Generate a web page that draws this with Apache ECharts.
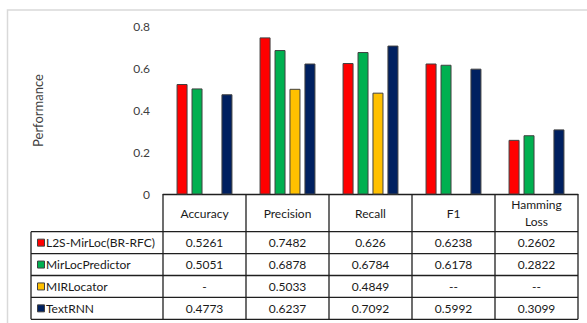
<!DOCTYPE html>
<html>
<head>
<meta charset="utf-8">
<script src="https://cdn.jsdelivr.net/npm/echarts@6/dist/echarts.min.js"></script>
<style>
  html, body { margin: 0; padding: 0; background: #ffffff; }
  #chart { width: 587px; height: 323px; }
</style>
</head>
<body>
<div id="chart"></div>
<script>
// Metric categories along the x axis (also the header of the data table)
const metrics = ['Accuracy', 'Precision', 'Recall', 'F1', 'Hamming\nLoss'];

// Model names (rows of the data table)
const modelNames = ['L2S-MirLoc(BR-RFC)', 'MirLocPredictor', 'MIRLocator', 'TextRNN'];

// Reported scores per model, as printed in the table ('-' / '--' = not reported)
const l2sMirLocScores = ['0.5261', '0.7482', '0.626', '0.6238', '0.2602'];
const mirLocPredictorScores = ['0.5051', '0.6878', '0.6784', '0.6178', '0.2822'];
const mirLocatorScores = ['-', '0.5033', '0.4849', '--', '--'];
const textRnnScores = ['0.4773', '0.6237', '0.7092', '0.5992', '0.3099'];

// Series colours
const modelColors = ['#FF0000', '#00B050', '#FFC000', '#002060'];

// Y axis ticks
const yTicks = [0, 0.2, 0.4, 0.6, 0.8];

const tableRows = [l2sMirLocScores, mirLocPredictorScores, mirLocatorScores, textRnnScores];
const toValue = s => (isNaN(parseFloat(s)) ? null : parseFloat(s));

const FONT = 'Lato';
const LINE = '#1f1f1f';
const TEXT = '#1a1a1a';

const chart = echarts.init(document.getElementById('chart'), null, { renderer: 'svg' });

const option = {
  animation: false,
  backgroundColor: '#ffffff',
  grid: { left: 163, right: 9, top: 26.5, bottom: 128.5, containLabel: false },
  xAxis: {
    type: 'category',
    data: metrics,
    axisLine: { show: true, lineStyle: { color: LINE, width: 1.3 } },
    axisTick: { show: false },
    axisLabel: {
      interval: 0,
      margin: 18.5,
      verticalAlign: 'middle',
      lineHeight: 16.5,
      fontFamily: FONT,
      fontSize: 12,
      color: TEXT
    }
  },
  yAxis: {
    type: 'value',
    min: yTicks[0],
    max: yTicks[yTicks.length - 1],
    interval: yTicks[1] - yTicks[0],
    name: 'Performance',
    nameLocation: 'middle',
    nameGap: 119,
    nameRotate: 90,
    nameTextStyle: { fontFamily: FONT, fontSize: 13, color: '#404040' },
    axisLine: { show: false },
    axisTick: { show: false },
    splitLine: { show: false },
    axisLabel: {
      margin: 13,
      fontFamily: FONT,
      fontSize: 12,
      color: '#404040',
      formatter: v => (v === 0 ? '0' : v.toFixed(1))
    }
  },
  series: tableRows.map((cells, i) => ({
    type: 'bar',
    name: modelNames[i],
    data: cells.map(toValue),
    barWidth: 11,
    barGap: '36%',
    itemStyle: { color: modelColors[i], borderColor: '#404040', borderWidth: 1 }
  }))
};

chart.setOption(option);

// Data table below the plot, laid out from the axis positions
const y0 = chart.convertToPixel({ yAxisIndex: 0 }, 0);
const centers = metrics.map((m, i) => chart.convertToPixel({ xAxisIndex: 0 }, i));
const band = centers[1] - centers[0];
const colLeft = centers[0] - band / 2;
const colRight = centers[centers.length - 1] + band / 2;
const headerBottom = y0 + 37.2;
const rowH = 21.9;
const tableBottom = headerBottom + rowH * tableRows.length;
const legendLeft = 31;

const elements = [];

// Outer chart frame
elements.push({
  type: 'rect',
  shape: { x: 7.5, y: 10, width: 640, height: 400 },
  style: { fill: 'none', stroke: '#d9d9d9', lineWidth: 1.5 },
  silent: true
});

// Column separators
for (let k = 0; k <= metrics.length; k++) {
  const x = colLeft + k * band;
  elements.push({
    type: 'line',
    shape: { x1: x, y1: y0, x2: x, y2: tableBottom },
    style: { stroke: LINE, lineWidth: 1.3 },
    silent: true
  });
}
// Left edge of the legend column
elements.push({
  type: 'line',
  shape: { x1: legendLeft, y1: headerBottom, x2: legendLeft, y2: tableBottom },
  style: { stroke: LINE, lineWidth: 1.3 },
  silent: true
});
// Row separators
for (let r = 0; r <= tableRows.length; r++) {
  const y = headerBottom + r * rowH;
  elements.push({
    type: 'line',
    shape: { x1: legendLeft, y1: y, x2: colRight, y2: y },
    style: { stroke: LINE, lineWidth: 1.3 },
    silent: true
  });
}

// Row contents: legend key, model name, values
tableRows.forEach((cells, r) => {
  const cy = headerBottom + (r + 0.5) * rowH;
  elements.push({
    type: 'rect',
    shape: { x: 37.5, y: cy - 3.5, width: 7, height: 7 },
    style: { fill: modelColors[r], stroke: '#404040', lineWidth: 1 },
    silent: true
  });
  elements.push({
    type: 'text',
    x: 46,
    y: cy,
    style: {
      text: modelNames[r],
      fontFamily: FONT,
      fontSize: 12,
      fill: TEXT,
      align: 'left',
      verticalAlign: 'middle'
    },
    silent: true
  });
  cells.forEach((s, c) => {
    elements.push({
      type: 'text',
      x: centers[c],
      y: cy,
      style: {
        text: s,
        fontFamily: FONT,
        fontSize: 12,
        fill: TEXT,
        align: 'center',
        verticalAlign: 'middle'
      },
      silent: true
    });
  });
});

chart.setOption({ graphic: { elements: elements } });
</script>
</body>
</html>
